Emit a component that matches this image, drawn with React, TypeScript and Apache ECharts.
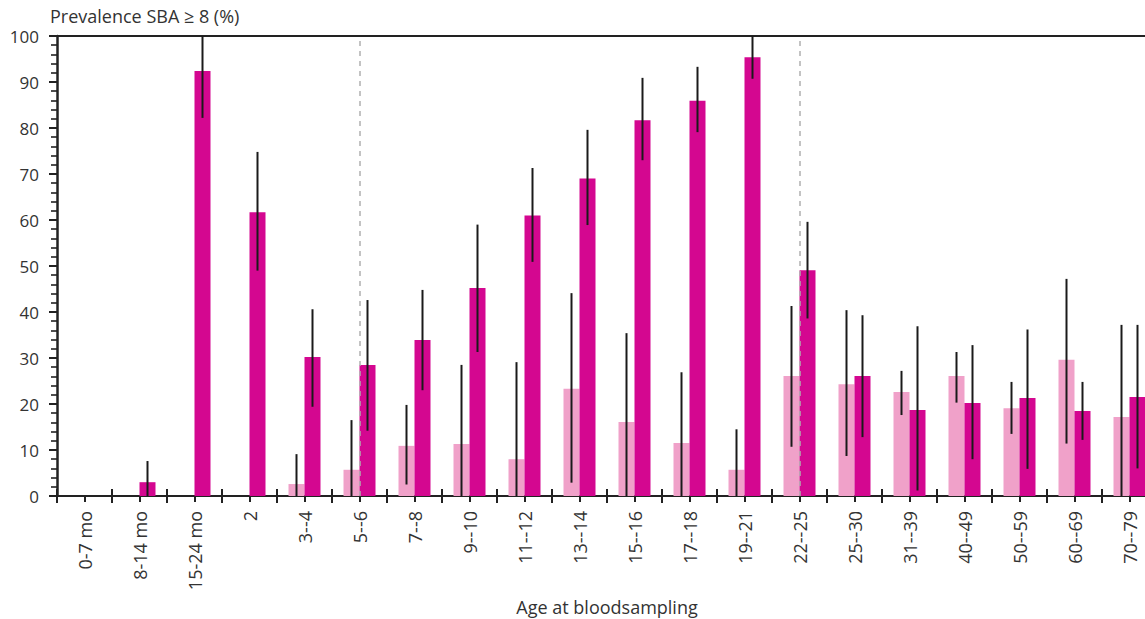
import React, { useEffect, useRef } from "react";
import * as echarts from "echarts";

const categories = ["0-7 mo", "8-14 mo", "15-24 mo", "2", "3--4", "5--6", "7--8", "9--10", "11--12", "13--14", "15--16", "17--18", "19--21", "22--25", "25--30", "31--39", "40--49", "50--59", "60--69", "70--79"];

const lightValues = [0, 0, 0, 0, 2.6, 5.7, 10.9, 11.3, 8.0, 23.3, 16.1, 11.5, 5.7, 26.1, 24.3, 22.6, 26.1, 19.1, 29.6, 17.2];
const lightLow = [null, null, null, null, 0, 0, 2.5, 0, 0, 2.9, 0, 0, 0, 10.7, 8.7, 17.6, 20.3, 13.5, 11.4, 0];
const lightHigh = [null, null, null, null, 9.1, 16.5, 19.8, 28.5, 29.1, 44.1, 35.4, 26.9, 14.5, 41.3, 40.4, 27.2, 31.3, 24.8, 47.2, 37.2];

const darkValues = [0, 3.0, 92.4, 61.7, 30.2, 28.5, 33.9, 45.2, 61.0, 69.0, 81.7, 85.9, 95.4, 49.1, 26.1, 18.7, 20.2, 21.3, 18.5, 21.5];
const darkLow = [null, 0, 82.2, 49.0, 19.4, 14.2, 23.0, 31.3, 50.9, 58.9, 73.0, 79.1, 90.7, 38.6, 12.8, 1.2, 8.0, 5.9, 12.2, 6.0];
const darkHigh = [null, 7.6, 100, 74.8, 40.6, 42.6, 44.8, 59.0, 71.3, 79.6, 90.9, 93.3, 100, 59.6, 39.3, 36.9, 32.8, 36.2, 24.8, 37.2];

const dashedAt = ["5--6", "22--25"];

const yTicks = { min: 0, max: 100, interval: 10, minorSplit: 5 };

const FONT = "'Open Sans', 'Noto Sans', sans-serif";
const BAR_W = 16;

function errData(low: (number | null)[], high: (number | null)[]) {
  const out: any[] = [];
  low.forEach((l, i) => {
    const h = high[i];
    if (l !== null && h !== null) out.push([i, l, h]);
  });
  return out;
}

function makeRender(offset: number) {
  return (params: any, api: any) => {
    const i = api.value(0);
    const p1 = api.coord([i, api.value(1)]);
    const p2 = api.coord([i, api.value(2)]);
    const x = p1[0] + offset;
    return {
      type: "line",
      shape: { x1: x, y1: p1[1], x2: x, y2: p2[1] },
      style: { stroke: "#1a1a1a", lineWidth: 2 },
    };
  };
}

export default function App() {
  const ref = useRef<HTMLDivElement>(null);
  useEffect(() => {
    if (!ref.current) return;
    const chart = echarts.init(ref.current, undefined, { renderer: "svg" });
    const baseX = {
      type: "category",
      data: categories,
      gridIndex: 0,
      position: "bottom",
      boundaryGap: true,
    };
    chart.setOption({
      animation: false,
      backgroundColor: "#ffffff",
      textStyle: { fontFamily: FONT },
      grid: { left: 57, right: 13, top: 36, bottom: 123, containLabel: false },
      xAxis: [
        {
          ...baseX,
          axisLine: { show: true, lineStyle: { color: "#222", width: 2 } },
          axisTick: { show: true, inside: false, length: 7, interval: 0, lineStyle: { color: "#222", width: 2 } },
          axisLabel: { show: true, interval: 0, rotate: 90, margin: 15, fontSize: 18, color: "#333", fontFamily: FONT },
          splitLine: { show: false },
        },
        {
          ...baseX,
          axisLine: { show: false },
          axisTick: { show: true, inside: true, length: 7, interval: 0, lineStyle: { color: "#222", width: 2 } },
          axisLabel: { show: false },
          splitLine: { show: false },
        },
        {
          ...baseX,
          axisLine: { show: false },
          axisTick: { show: true, inside: false, alignWithLabel: true, length: 6, interval: 0, lineStyle: { color: "#222", width: 2 } },
          axisLabel: { show: false },
          splitLine: { show: false },
        },
      ],
      yAxis: {
        type: "value",
        min: yTicks.min,
        max: yTicks.max,
        interval: yTicks.interval,
        axisLine: { show: true, lineStyle: { color: "#222", width: 2.5 } },
        axisTick: { show: true, inside: false, length: 8, lineStyle: { color: "#222", width: 2 } },
        minorTick: { show: true, splitNumber: yTicks.minorSplit, length: 6, lineStyle: { color: "#222", width: 1.6 } },
        splitLine: { show: false },
        minorSplitLine: { show: false },
        axisLabel: { show: true, fontSize: 17, color: "#333", margin: 18, fontFamily: FONT },
      },
      graphic: [
        {
          type: "text",
          left: 50,
          top: 7,
          style: { text: "Prevalence SBA ≥ 8 (%)", fontSize: 18, fill: "#333", fontFamily: FONT },
        },
        {
          type: "text",
          x: 607,
          y: 607,
          style: { text: "Age at bloodsampling", fontSize: 18, fill: "#333", fontFamily: FONT, align: "center", verticalAlign: "middle" },
        },
      ],
      series: [
        {
          type: "bar",
          name: "light",
          data: lightValues,
          barWidth: BAR_W,
          barGap: "0%",
          itemStyle: { color: "#f0a1c9" },
          z: 2,
        },
        {
          type: "bar",
          name: "dark",
          data: darkValues,
          barWidth: BAR_W,
          barGap: "0%",
          itemStyle: { color: "#d40790" },
          z: 2,
        },
        {
          type: "line",
          name: "refs",
          data: categories.map(() => null),
          showSymbol: false,
          z: 6,
          markLine: {
            silent: true,
            symbol: ["none", "none"],
            label: { show: false },
            animation: false,
            data: [
              ...dashedAt.map((c) => ({ xAxis: c, lineStyle: { type: [5, 5], color: "#b0b0b0", width: 1.5 } })),
              { yAxis: 100, lineStyle: { type: "solid", color: "#222", width: 2 } },
            ],
          },
        },
        {
          type: "custom",
          name: "lightErr",
          data: errData(lightLow, lightHigh),
          renderItem: makeRender(-BAR_W / 2),
          z: 8,
        },
        {
          type: "custom",
          name: "darkErr",
          data: errData(darkLow, darkHigh),
          renderItem: makeRender(BAR_W / 2),
          z: 8,
        },
      ],
    });
    return () => chart.dispose();
  }, []);
  return (
    <div style={{ position: "fixed", left: 0, top: 0, width: 1145, height: 619, overflow: "hidden", background: "#fff" }}>
      <div ref={ref} style={{ width: 1170, height: 619 }} />
    </div>
  );
}
